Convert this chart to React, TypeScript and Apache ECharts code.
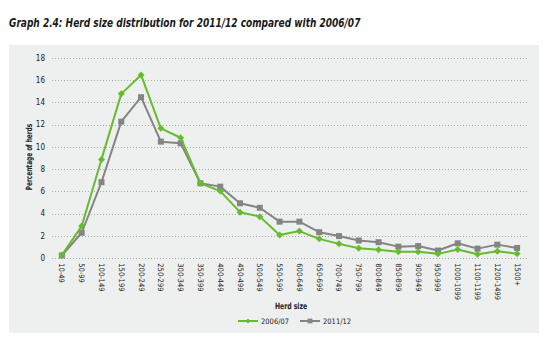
import React, { useEffect, useRef } from "react";
import * as echarts from "echarts";

const categories = [
  "10-49", "50-99", "100-149", "150-199", "200-249", "250-299", "300-349", "350-399",
  "400-449", "450-499", "500-549", "550-599", "600-649", "650-699", "700-749", "750-799",
  "800-849", "850-899", "900-949", "950-999", "1000-1099", "1100-1199", "1200-1499", "1500+",
];
const series2006 = [
  0.3, 2.9, 8.9, 14.8, 16.5, 11.7, 10.85, 6.75, 6.05, 4.15, 3.75, 2.1,
  2.45, 1.75, 1.3, 0.9, 0.78, 0.6, 0.6, 0.4, 0.8, 0.37, 0.63, 0.42,
];
const series2011 = [
  0.25, 2.3, 6.85, 12.3, 14.5, 10.5, 10.35, 6.75, 6.45, 4.95, 4.55, 3.3,
  3.3, 2.35, 2.0, 1.6, 1.45, 1.05, 1.1, 0.7, 1.35, 0.87, 1.23, 0.93,
];
const seriesNames = ["2006/07", "2011/12"];
const yTicks = { min: 0, max: 18, interval: 2 };

const FONT = "'DejaVu Sans Condensed', 'DejaVu Sans', sans-serif";
const GREEN = "#66bb2e";
const GRAY = "#848484";

export default function App() {
  const ref = useRef<HTMLDivElement>(null);
  useEffect(() => {
    document.body.style.margin = "0";
    const chart = echarts.init(ref.current!, null, { renderer: "svg" });
    chart.setOption({
      animation: false,
      backgroundColor: "#ffffff",
      textStyle: { fontFamily: FONT },
      graphic: [
        {
          type: "rect",
          shape: { x: 9, y: 45, width: 530, height: 288 },
          style: { fill: "#eeefef" },
          z: -10,
          silent: true,
        },
        {
          type: "text",
          x: 9,
          y: 17,
          scaleX: 0.835,
          style: {
            text: "Graph 2.4: Herd size distribution for 2011/12 compared with 2006/07",
            fontFamily: FONT,
            fontStyle: "italic",
            fontWeight: "bold",
            fontSize: 12,
            fill: "#1a1a1a",
          },
        },
        {
          type: "text",
          x: 29,
          y: 157,
          rotation: Math.PI / 2,
          scaleX: 0.76,
          style: {
            text: "Percentage of herds",
            fontFamily: FONT,
            fontWeight: "bold",
            fontSize: 8.5,
            fill: "#222",
            align: "center",
            verticalAlign: "middle",
          },
        },
        {
          type: "text",
          x: 291,
          y: 306,
          scaleX: 0.8,
          style: {
            text: "Herd size",
            fontFamily: FONT,
            fontWeight: "bold",
            fontSize: 8.5,
            fill: "#222",
            align: "center",
            verticalAlign: "middle",
          },
        },
      ],
      grid: { left: 52, right: 23, top: 58.3, bottom: 93.7 },
      legend: {
        data: seriesNames,
        top: 317,
        left: 237,
        padding: 0,
        itemWidth: 20,
        itemHeight: 6,
        itemGap: 10,
        textStyle: { fontFamily: FONT, fontSize: 7.5, color: "#222", padding: [0, 0, 0, -2] },
      },
      xAxis: {
        type: "category",
        data: categories,
        boundaryGap: true,
        axisLine: { show: false },
        axisTick: { show: false },
        axisLabel: {
          rotate: -90,
          interval: 0,
          margin: 5,
          fontSize: 7.5,
          color: "#222",
          fontFamily: FONT,
        },
      },
      yAxis: {
        type: "value",
        min: yTicks.min,
        max: yTicks.max,
        interval: yTicks.interval,
        axisLine: { show: false },
        axisTick: { show: false },
        axisLabel: { fontSize: 8, color: "#222", margin: 7, fontFamily: FONT },
        splitLine: { lineStyle: { type: [1, 2], color: "#aaaaaa", width: 1 } },
      },
      series: [
        {
          name: seriesNames[0],
          type: "line",
          data: series2006,
          symbol: "diamond",
          symbolSize: 7,
          lineStyle: { color: GREEN, width: 2 },
          itemStyle: { color: GREEN },
          z: 3,
        },
        {
          name: seriesNames[1],
          type: "line",
          data: series2011,
          symbol: "rect",
          symbolSize: 6,
          lineStyle: { color: GRAY, width: 2 },
          itemStyle: { color: GRAY },
          z: 2,
        },
      ],
    });
    return () => chart.dispose();
  }, []);
  return <div ref={ref} style={{ width: 550, height: 352 }} />;
}
